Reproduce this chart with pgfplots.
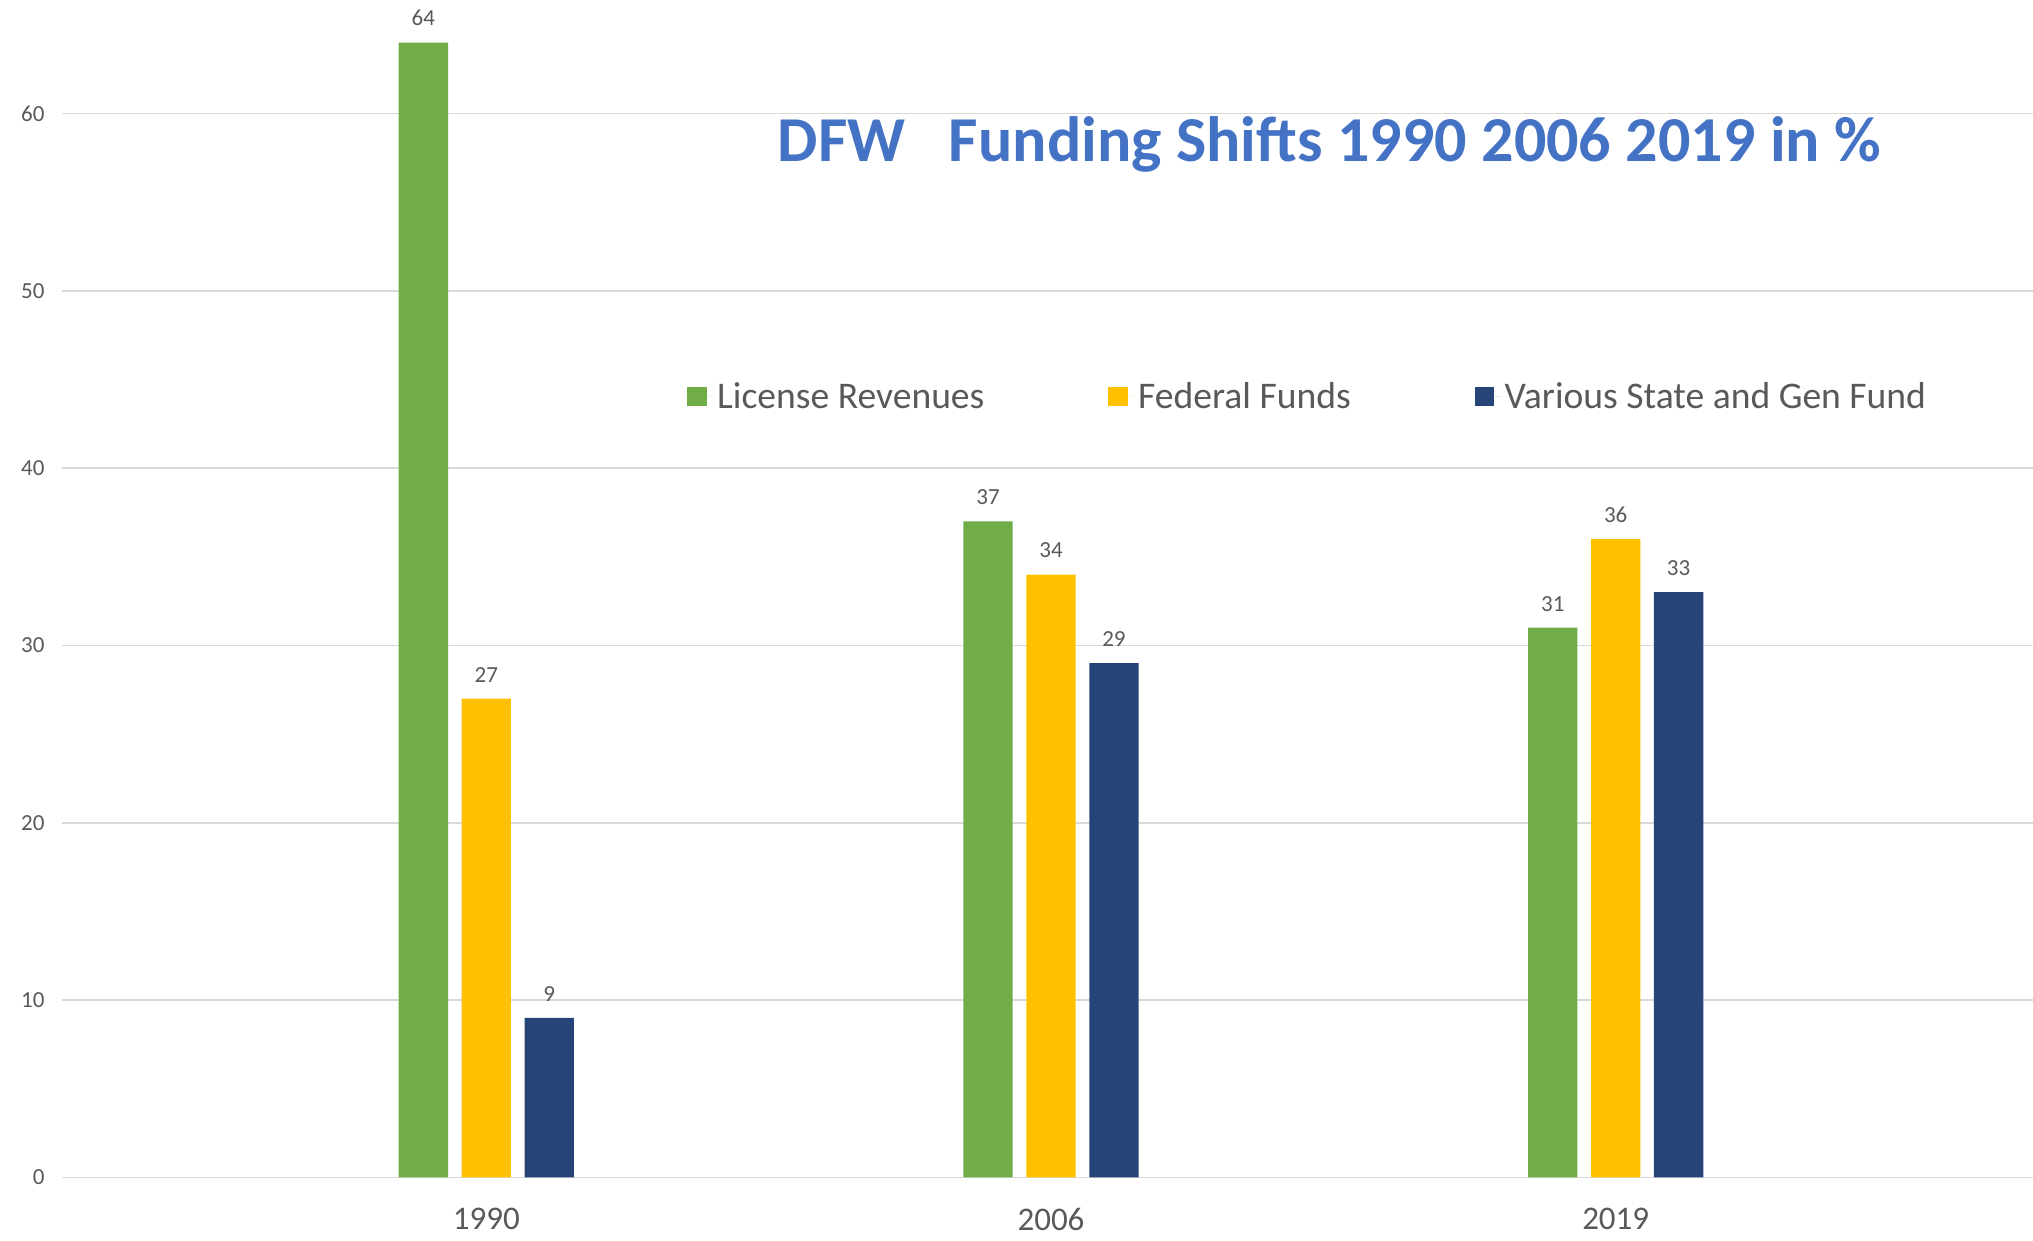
\documentclass[border=0pt]{standalone}
\usepackage{pgfplots}
\pgfplotsset{compat=1.18}
\usepackage{fontspec}
\setmainfont{Carlito}
\definecolor{cgreen}{HTML}{70AD47}
\definecolor{cyellow}{HTML}{FFC000}
\definecolor{cnavy}{HTML}{264478}
\definecolor{ctitle}{HTML}{4472C4}
\definecolor{ctext}{HTML}{595959}
\definecolor{cgrid}{HTML}{D9D9D9}
\begin{document}
\begin{tikzpicture}
\begin{axis}[
  scale only axis,
  width=985.4pt, height=588.7pt,
  xmin=-0.751, xmax=2.739,
  ymin=0, ymax=66.4,
  xtick={0,1,2}, xticklabels={1990,2006,2019},
  ytick={0,10,20,30,40,50,60},
  /pgf/number format/assume math mode=true,
  axis line style={draw=none},
  tick style={draw=none},
  ymajorgrids,
  major grid style={color=cgrid, line width=0.85pt},
  yticklabel style={font=\fontsize{11.5}{13}\selectfont, text=ctext, anchor=east, xshift=-5.3pt},
  xticklabel style={font=\fontsize{16.5}{19}\selectfont, text=ctext, anchor=north, yshift=-7.5pt},
  ybar,
  bar width=0.0873,
  nodes near coords,
  nodes near coords style={font=\fontsize{11.5}{13}\selectfont, text=ctext, inner sep=1pt, yshift=7pt},
  legend columns=3,
  legend style={draw=none, fill=none, at={(0.317,0.663)}, anchor=west,
    font=\fontsize{18.8}{22}\selectfont, text=ctext,
    /tikz/every even column/.append style={column sep=60pt},
    inner sep=0pt},
  legend image code/.code={\fill[#1] (0pt,-4.85pt) rectangle (9.7pt,4.85pt); \path (0pt,0pt) -- (12.9pt,0pt);},
  clip=false,
]
\addplot[fill=cgreen, draw=none, bar shift=-0.1114] coordinates {(0,64) (1,37) (2,31)};
\addplot[fill=cyellow, draw=none, bar shift=0] coordinates {(0,27) (1,34) (2,36)};
\addplot[fill=cnavy, draw=none, bar shift=0.1114] coordinates {(0,9) (1,29) (2,33)};
\legend{License Revenues, Federal Funds, Various State and Gen Fund}
\node[font=\fontsize{32}{36}\selectfont\bfseries, text=ctitle, anchor=center] at (rel axis cs:0.643,0.877) {DFW\ \ \ Funding Shifts 1990 2006 2019 in \%};
\coordinate (bl) at (rel axis cs:0,0);
\coordinate (tr) at (rel axis cs:1,1);
\end{axis}
\pgfresetboundingbox
\path[use as bounding box] ([xshift=-31.1pt,yshift=-31.8pt]bl) rectangle (tr);
\end{tikzpicture}
\end{document}
